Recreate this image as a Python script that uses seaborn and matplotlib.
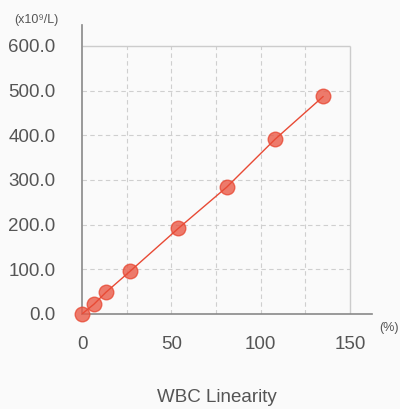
import matplotlib.pyplot as plt
import seaborn as sns
import pandas as pd

# WBC linearity data
percent = [0, 6.7, 13.5, 27, 54, 81, 108, 135]
wbc = [0, 22, 49, 96, 192, 284, 391, 487]
y_ticks = [0, 100, 200, 300, 400, 500, 600]
x_ticks = [0, 50, 100, 150]
x_grid = [25, 50, 75, 100, 125]

df = pd.DataFrame({"percent": percent, "wbc": wbc})

sns.set_style("white")
plt.rcParams['font.family'] = ['Liberation Sans', 'DejaVu Sans']

bg = '#fafafa'
red = '#e84a35'
fig = plt.figure(figsize=(4.0, 4.09), dpi=100, facecolor=bg)
ax = fig.add_axes([0.205, 0.2323, 0.725, 0.7066])
ax.set_facecolor(bg)

#grid
#------------------
ax.hlines(y_ticks[1:-1], 0, 150, colors='#cfcfcf', linestyles=(0, (4, 3)), lw=0.8, zorder=0)
ax.vlines(x_grid, 0, 600, colors='#cfcfcf', linestyles=(0, (4, 3)), lw=0.8, zorder=0)
ax.hlines(600, 0, 150, colors='#cccccc', lw=1.0, zorder=0)
ax.vlines(150, 0, 600, colors='#cccccc', lw=1.0, zorder=0)

ax.plot(df['percent'], df['wbc'], color=red, lw=1.0, zorder=4)
sns.scatterplot(data=df, x='percent', y='wbc', ax=ax, s=110, color='#ea5a47',
                edgecolor=red, linewidth=1.0, alpha=0.8, zorder=3, clip_on=False)

ax.set_xlim(0, 162.3)
ax.set_ylim(0, 647)
ax.set_xticks(x_ticks)
ax.set_yticks(y_ticks)
ax.set_yticklabels([f"{v:.1f}" for v in y_ticks])
ax.tick_params(length=0, labelsize=13.5, colors='#555555')
ax.tick_params(axis='y', pad=19)
ax.tick_params(axis='x', pad=16)
ax.set_xlabel("")
ax.set_ylabel("")

for s in ['top', 'right']:
    ax.spines[s].set_visible(False)
for s in ['left', 'bottom']:
    ax.spines[s].set_color('#888888')
    ax.spines[s].set_linewidth(1.2)

fig.text(0.035, 0.95, "(x10⁹/L)", fontsize=9, color='#555555', va='center')
fig.text(0.947, 0.198, "(%)", fontsize=9, color='#555555', va='center')
fig.text(0.543, 0.027, "WBC Linearity", fontsize=13.5, color='#555555', ha='center', va='center')

plt.savefig("out.png", dpi=100, facecolor=bg)
